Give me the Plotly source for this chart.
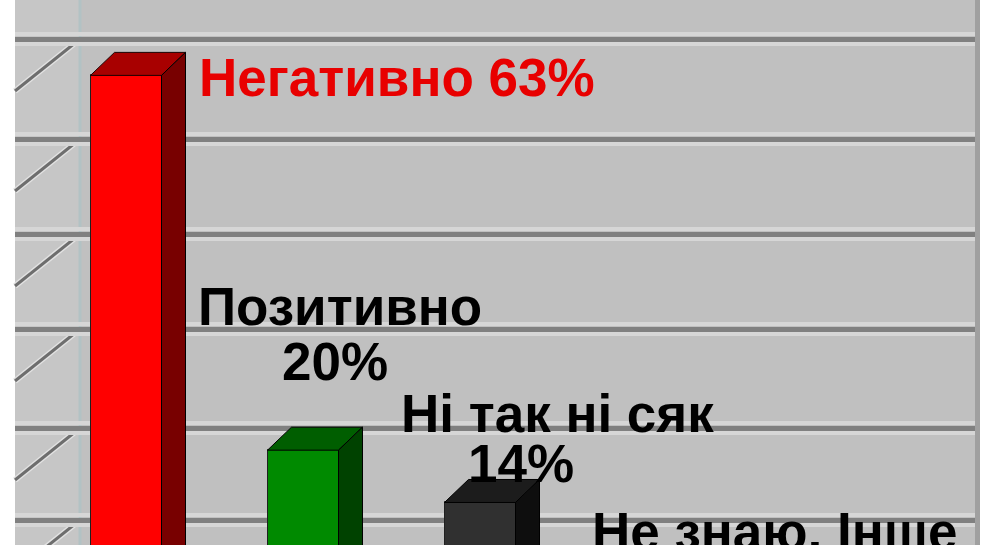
import plotly.graph_objects as go

# ---------------- data ----------------
categories = ["Негативно", "Позитивно", "Ні так ні сяк", "Не знаю, Інше"]
values = [63, 20, 14, 3]
pct_labels = ["63%", "20%", "14%", "3%"]

# ---------------- style ----------------
front_colors = ["#ff0000", "#008a00", "#303030", "#303030"]
top_colors = ["#a80000", "#005e00", "#1c1c1c", "#1c1c1c"]
side_colors = ["#780000", "#004200", "#0e0e0e", "#0e0e0e"]
label_colors = ["#e80000", "#000000", "#000000", "#000000"]

W, H = 1000, 545
ML, MR = 15, 20                 # white strips left / right
X0_PX, PX_PER_X = 126, 177      # pixel of first category, pixels per category
Y0_PX, PX_PER_Y = 624.5, 8.716  # pixel of value 0, pixels per percent
BAR_W = 71 / PX_PER_X
DX = 24 / PX_PER_X              # 3D depth offset
DY = 23 / PX_PER_Y
FONT = "Liberation Sans, Arial, sans-serif"
FS = 53

grid_px = [39, 139, 234, 329, 428, 520]
grid_vals = [(Y0_PX - p) / PX_PER_Y for p in grid_px]
halo = 5 / PX_PER_Y
minor_vals = [g + s for g in grid_vals for s in (-halo, halo)]

# label offsets in pixels relative to the front-top centre of each bar
name_shift = [(72, -2), (37, 144), (77, 89), (117, 67)]
pct_shift = [None, (32, 89), (41, 39), (103, 12)]

x_range = [(ML - X0_PX) / PX_PER_X, (W - MR - X0_PX) / PX_PER_X]
y_range = [(Y0_PX - H) / PX_PER_Y, Y0_PX / PX_PER_Y]

fig = go.Figure()

xs = list(range(len(categories)))
fig.add_trace(go.Bar(
    x=xs, y=values, width=BAR_W,
    marker=dict(color=front_colors, line=dict(color="#202020", width=1)),
    hoverinfo="skip", showlegend=False,
))

for i, v in enumerate(values):
    l, r = i - BAR_W / 2, i + BAR_W / 2
    # top face
    fig.add_trace(go.Scatter(
        x=[l, r, r + DX, l + DX, l], y=[v, v, v + DY, v + DY, v],
        fill="toself", fillcolor=top_colors[i], mode="lines",
        line=dict(color="#1a0000" if i == 0 else "#000000", width=1),
        hoverinfo="skip", showlegend=False,
    ))
    # side face
    fig.add_trace(go.Scatter(
        x=[r, r, r + DX, r + DX, r], y=[0, v, v + DY, DY, 0],
        fill="toself", fillcolor=side_colors[i], mode="lines",
        line=dict(color="#000000", width=1),
        hoverinfo="skip", showlegend=False,
    ))


def label(i, text, shift, anchor):
    return dict(
        x=i + shift[0] / PX_PER_X, y=values[i] + shift[1] / PX_PER_Y,
        xref="x", yref="y", text=text, showarrow=False,
        xanchor=anchor, yanchor="middle", borderpad=0,
        font=dict(family=FONT, size=FS, color=label_colors[i], weight="bold"),
    )


annotations = []
for i in range(len(values)):
    if i == 0:
        annotations.append(label(i, f"{categories[i]} {pct_labels[i]}", name_shift[i], "left"))
    else:
        annotations.append(label(i, categories[i], name_shift[i], "center"))
        annotations.append(label(i, pct_labels[i], pct_shift[i], "center"))

wall_x = (80 - ML) / (W - ML - MR)
edge_x = 1 - 2.5 / (W - ML - MR)
shapes = [
    # left side wall
    dict(type="rect", xref="paper", yref="paper", x0=0, x1=wall_x, y0=0, y1=1,
         fillcolor="#c6c6c6", line=dict(width=0), layer="between"),
    dict(type="line", xref="paper", yref="paper", x0=wall_x, x1=wall_x, y0=0, y1=1,
         line=dict(color="#b2c2c4", width=3), layer="between"),
    # right border
    dict(type="line", xref="paper", yref="paper", x0=edge_x, x1=edge_x, y0=0, y1=1,
         line=dict(color="#a0a0a0", width=5), layer="above"),
]
wall_drop = 52 / PX_PER_Y
for g in grid_vals:
    shapes.append(dict(type="line", xref="paper", yref="y", x0=wall_x, y0=g,
                       x1=0, y1=g - wall_drop, line=dict(color="#e2e2e2", width=6),
                       layer="between"))
    shapes.append(dict(type="line", xref="paper", yref="y", x0=wall_x, y0=g,
                       x1=0, y1=g - wall_drop, line=dict(color="#6e6e6e", width=3),
                       layer="between"))

fig.update_layout(
    width=W, height=H,
    margin=dict(l=ML, r=MR, t=0, b=0),
    paper_bgcolor="#ffffff", plot_bgcolor="#c0c0c0",
    showlegend=False, bargap=0,
    annotations=annotations, shapes=shapes,
    xaxis=dict(range=x_range, showgrid=False, zeroline=False, showticklabels=False,
               ticks="", showline=False, fixedrange=True),
    yaxis=dict(range=y_range, tickvals=grid_vals, showgrid=True, gridcolor="#808080",
               gridwidth=5, zeroline=False, showticklabels=False, ticks="",
               showline=False, fixedrange=True,
               minor=dict(tickvals=minor_vals, showgrid=True, gridcolor="#d6d6d6",
                          gridwidth=4)),
)

fig.write_html(
    "out.html",
    config={"displayModeBar": False},
    post_script="document.body.style.margin='0';document.body.style.overflow='hidden';",
)
